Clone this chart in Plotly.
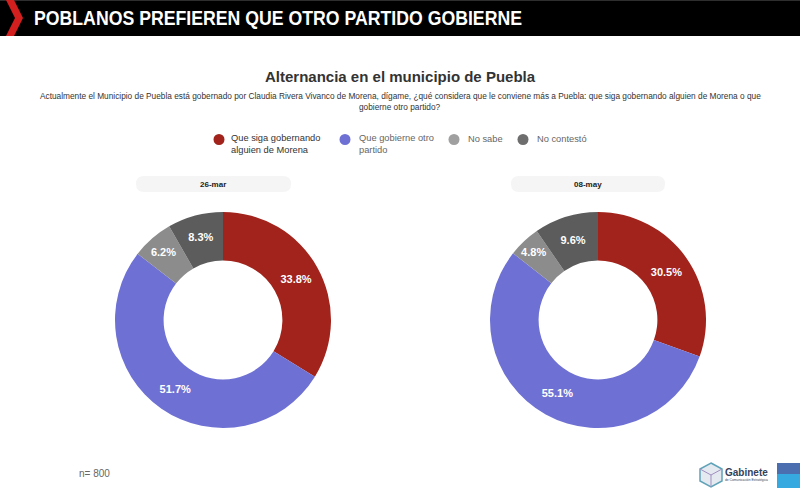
import plotly.graph_objects as go

W, H = 800, 499

categories = ["Que siga gobernando<br>alguien de Morena", "Que gobierne otro<br>partido", "No sabe", "No contestó"]
colors = ["#a1231b", "#6e71d3", "#8c8c8c", "#5c5c5c"]
legend_colors = ["#a1231b", "#6e71d3", "#a0a0a0", "#6e6e6e"]
dates = ["26-mar", "08-may"]
marzo = [33.8, 51.7, 6.2, 8.3]
mayo = [30.5, 55.1, 4.8, 9.6]
header_title = "POBLANOS PREFIEREN QUE OTRO PARTIDO GOBIERNE"


def px_x(v):
    return v / W


def px_y(v):
    return 1 - v / H


def pill(x0, x1, y0, y1):
    r = (y1 - y0) / 2
    return (
        f"M {x0 + r},{y0} L {x1 - r},{y0} Q {x1},{y0} {x1},{y0 + r} "
        f"Q {x1},{y1} {x1 - r},{y1} L {x0 + r},{y1} "
        f"Q {x0},{y1} {x0},{y0 + r} Q {x0},{y0} {x0 + r},{y0} Z"
    )


def label(x, y, text, size, color="#333333", bold=False, anchor="left", family="Liberation Sans"):
    fig.add_annotation(
        x=px_x(x), y=px_y(y), xref="paper", yref="paper", text=text, showarrow=False,
        xanchor=anchor, yanchor="middle", align=anchor,
        font=dict(size=size, color=color, family=family, weight=700 if bold else 400),
    )


def shape(kind, **kw):
    fig.add_shape(type=kind, xref="x", yref="y", layer="above", **kw)


fig = go.Figure()

for values, x0, x1 in [(marzo, 115, 331), (mayo, 490, 706)]:
    fig.add_trace(
        go.Pie(
            labels=categories,
            values=values,
            hole=0.55,
            sort=False,
            direction="clockwise",
            rotation=0,
            marker=dict(colors=colors, line=dict(width=0)),
            texttemplate="%{value:.1f}%",
            textposition="inside",
            insidetextorientation="horizontal",
            textfont=dict(size=11, color="white", family="Liberation Sans", weight=700),
            domain=dict(x=[px_x(x0), px_x(x1)], y=[px_y(428), px_y(212)]),
            showlegend=False,
        )
    )

# invisible axes in pixel units, used for the decoration only
fig.update_layout(
    width=W,
    height=H,
    margin=dict(l=0, r=0, t=0, b=0),
    paper_bgcolor="white",
    plot_bgcolor="rgba(0,0,0,0)",
    xaxis=dict(range=[0, W], visible=False, fixedrange=True),
    yaxis=dict(range=[H, 0], visible=False, fixedrange=True),
)
fig.add_trace(go.Scatter(x=[0], y=[0], mode="markers", marker=dict(opacity=0), showlegend=False, hoverinfo="skip"))

# header band
shape("rect", x0=0, x1=W, y0=0, y1=36, fillcolor="#000000", line_width=0)
shape("rect", x0=0, x1=W, y0=0, y1=1, fillcolor="#2e2e2e", line_width=0)
shape("path", path="M 6,0 L 14,0 L 23,18 L 14,36 L 6,36 L 15,18 Z", fillcolor="#d3201f", line_width=0)
label(32, 17.5, header_title, 21, "white", True)

label(400, 76, "Alternancia en el municipio de Puebla", 15, "#333333", True, "center")
label(400, 96, "Actualmente el Municipio de Puebla está gobernado por Claudia Rivera Vivanco de Morena, dígame, ¿qué considera que le conviene más a Puebla: que siga gobernando alguien de Morena o que", 8.3, "#333333", anchor="center")
label(400, 107, "gobierne otro partido?", 8.3, "#333333", anchor="center")

# legend
legend_x = [219, 345, 454, 523]
legend_text_x = [229, 357, 466, 535]
legend_text_y = [144, 144, 139, 139]
legend_text_colors = ["#333333", "#666666", "#666666", "#666666"]
for name, c, mx, tx, ty, tc in zip(categories, legend_colors, legend_x, legend_text_x, legend_text_y, legend_text_colors):
    shape("circle", x0=mx - 5.5, x1=mx + 5.5, y0=134, y1=145, fillcolor=c, line_width=0)
    label(tx, ty, name, 9.3, tc)

# date pills
for d, x0, x1 in zip(dates, [136, 511], [291, 665]):
    shape("path", path=pill(x0, x1, 176, 192), fillcolor="#f5f5f5", line_width=0)
    label((x0 + x1) / 2, 184.5, d, 8, "#222222", True, "center")

label(77, 473, "n= 800", 10, "#666666")

# logo
shape("path", path="M 711,463 L 722,469 L 722,481 L 711,487 L 700,481 L 700,469 Z",
      fillcolor="rgba(150,170,200,0.25)", line=dict(color="#5fa3b8", width=1.5))
shape("path", path="M 700,469 L 711,475 L 722,469 M 711,475 L 711,487", line=dict(color="#a08fc0", width=1))
label(723, 472, "Gabinete", 10, "#33415c", True)
label(723, 480, "de Comunicación Estratégica", 3.3, "#33415c")
shape("rect", x0=777, x1=W, y0=463, y1=474, fillcolor="#4a6eb0", line_width=0)
shape("rect", x0=777, x1=W, y0=474, y1=488, fillcolor="#36a9e1", line_width=0)

# page margin off, and squeeze the header title to the condensed width of the original
post = """
document.body.style.margin = '0';
document.querySelectorAll('.annotation-text').forEach(function (t) {
  if (t.textContent.indexOf('POBLANOS') === 0) {
    t.setAttribute('textLength', '488');
    t.setAttribute('lengthAdjust', 'spacingAndGlyphs');
    t.setAttribute('text-anchor', 'start');
  }
});
"""
fig.write_html("out.html", config=dict(displayModeBar=False), post_script=post)
